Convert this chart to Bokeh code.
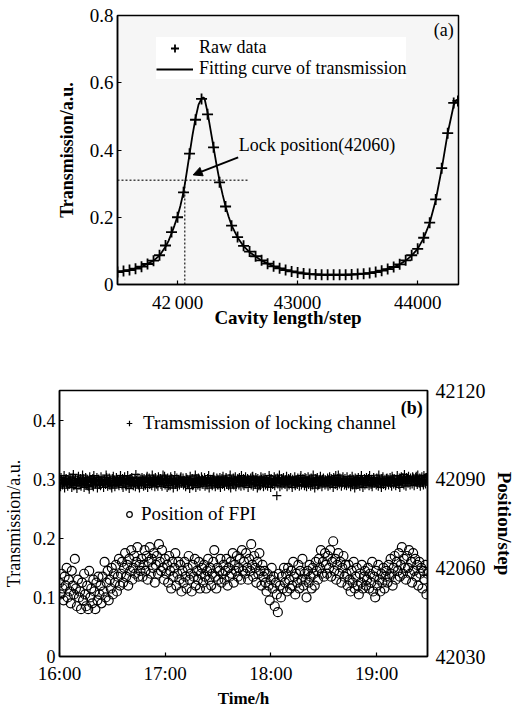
from bokeh.plotting import figure
from bokeh.models import (Range1d, LinearAxis, FixedTicker, Legend, LegendItem,
                          Label, Arrow, NormalHead)
from bokeh.embed import file_html
from bokeh.resources import INLINE
import numpy as np

FONT = "Liberation Serif"

# ---------------- (a) transmission scan ----------------
raw_step = [41500, 41550, 41600, 41650, 41700, 41750, 41800, 41850, 41900, 41950,
            42000, 42050, 42100, 42150, 42200, 42250, 42300, 42350, 42400, 42450,
            42500, 42550, 42600, 42650, 42700, 42750, 42800, 42850, 42900, 42950,
            43000, 43050, 43100, 43150, 43200, 43250, 43300, 43350, 43400, 43450,
            43500, 43550, 43600, 43650, 43700, 43750, 43800, 43850, 43900, 43950,
            44000, 44050, 44100, 44150, 44200, 44250, 44300, 44335]
raw_trans = [0.037, 0.040, 0.043, 0.047, 0.053, 0.061, 0.071, 0.087, 0.116, 0.156,
             0.200, 0.274, 0.389, 0.490, 0.552, 0.506, 0.408, 0.304, 0.232, 0.175,
             0.141, 0.115, 0.098, 0.084, 0.072, 0.062, 0.054, 0.048, 0.043, 0.039,
             0.036, 0.033, 0.031, 0.030, 0.029, 0.029, 0.029, 0.029, 0.029, 0.030,
             0.031, 0.032, 0.034, 0.037, 0.041, 0.046, 0.052, 0.060, 0.072, 0.087,
             0.106, 0.139, 0.184, 0.253, 0.346, 0.450, 0.540, 0.546]

fit_step = [41500, 41600, 41700, 41800, 41850, 41900, 41925, 41950, 41975, 42000,
            42025, 42050, 42075, 42100, 42125, 42150, 42175, 42200, 42215, 42225,
            42250, 42275, 42300, 42325, 42350, 42375, 42400, 42425, 42450, 42500,
            42550, 42600, 42700, 42800, 42900, 43000, 43100, 43200, 43300, 43400,
            43500, 43600, 43700, 43800, 43850, 43900, 43950, 44000, 44050, 44100,
            44150, 44200, 44250, 44300, 44320, 44340]
fit_trans = [0.037, 0.043, 0.053, 0.071, 0.086, 0.112, 0.130, 0.152, 0.176, 0.203,
             0.236, 0.275, 0.330, 0.388, 0.445, 0.495, 0.535, 0.553, 0.556, 0.553,
             0.512, 0.460, 0.408, 0.356, 0.308, 0.268, 0.232, 0.202, 0.176, 0.140,
             0.114, 0.096, 0.071, 0.054, 0.043, 0.035, 0.031, 0.029, 0.028, 0.028,
             0.030, 0.034, 0.041, 0.052, 0.060, 0.071, 0.086, 0.106, 0.138, 0.183,
             0.250, 0.343, 0.450, 0.533, 0.548, 0.550]

lock_step = 42060
lock_trans = 0.31
lock_guide_start = 41500
lock_guide_end = 42590
lock_text = "Lock position(42060)"
lock_text_step, lock_text_trans = 42510, 0.416
arrow_from_step, arrow_from_trans = 42505, 0.378
arrow_to_step, arrow_to_trans = 42130, 0.326
panel_a_step, panel_a_trans = 44300, 0.758

x1_ticks = [42000, 43000, 44000]
x1_tick_labels = ["42\u2009000", "43000", "44000"]
y1_ticks = [0, 0.2, 0.4, 0.6, 0.8]
y1_tick_labels = ["0", "0.2", "0.4", "0.6", "0.8"]

# ---------------- (b) locking record ----------------
time_start, time_end = 16.0, 19.48
x2_ticks = [16, 17, 18, 19]
x2_tick_labels = ["16:00", "17:00", "18:00", "19:00"]
y2_ticks = [0, 0.1, 0.2, 0.3, 0.4]
y2_tick_labels = ["0", "0.1", "0.2", "0.3", "0.4"]
pos_ticks = [42030, 42060, 42090, 42120]
panel_b_time, panel_b_trans = 19.434, 0.42

# locking-channel transmission, samples taken together with the FPI position
lock_channel_trans = [
    0.292, 0.287, 0.298, 0.290, 0.295, 0.285, 0.300, 0.293, 0.288, 0.296, 0.291, 0.302, 0.286, 0.294, 0.289, 0.297, 0.292, 0.284, 0.299, 0.290,
    0.295, 0.288, 0.293, 0.301, 0.286, 0.297, 0.291, 0.289, 0.296, 0.283, 0.294, 0.299, 0.290, 0.287, 0.298, 0.292, 0.295, 0.285, 0.300, 0.291,
    0.289, 0.296, 0.293, 0.286, 0.299, 0.291, 0.303, 0.288, 0.294, 0.290, 0.297, 0.285, 0.292, 0.298, 0.287, 0.295, 0.291, 0.300, 0.289, 0.294,
    0.297, 0.290, 0.286, 0.293, 0.299, 0.288, 0.295, 0.292, 0.284, 0.301, 0.291, 0.296, 0.289, 0.294, 0.287, 0.298, 0.293, 0.290, 0.285, 0.296,
    0.292, 0.299, 0.288, 0.294, 0.290, 0.302, 0.286, 0.295, 0.291, 0.297, 0.289, 0.293, 0.300, 0.287, 0.296, 0.292, 0.288, 0.298, 0.294, 0.291,
    0.288, 0.307, 0.295, 0.290, 0.298, 0.286, 0.293, 0.300, 0.289, 0.296, 0.292, 0.285, 0.299, 0.291, 0.294, 0.287, 0.297, 0.290, 0.302, 0.293,
    0.296, 0.290, 0.293, 0.287, 0.300, 0.292, 0.295, 0.284, 0.298, 0.291, 0.289, 0.297, 0.293, 0.286, 0.301, 0.290, 0.294, 0.288, 0.296, 0.292,
    0.291, 0.297, 0.288, 0.294, 0.290, 0.299, 0.285, 0.293, 0.296, 0.289, 0.302, 0.292, 0.287, 0.295, 0.290, 0.298, 0.293, 0.286, 0.297, 0.291,
    0.294, 0.288, 0.300, 0.291, 0.296, 0.289, 0.293, 0.285, 0.298, 0.292, 0.290, 0.297, 0.287, 0.295, 0.301, 0.290, 0.294, 0.288, 0.296, 0.292,
    0.289, 0.295, 0.292, 0.299, 0.286, 0.293, 0.297, 0.290, 0.304, 0.288, 0.294, 0.291, 0.298, 0.285, 0.296, 0.292, 0.289, 0.300, 0.293, 0.287,
    0.295, 0.290, 0.298, 0.288, 0.293, 0.301, 0.286, 0.294, 0.291, 0.297, 0.289, 0.295, 0.272, 0.292, 0.299, 0.287, 0.294, 0.290, 0.296, 0.293,
    0.291, 0.297, 0.287, 0.294, 0.290, 0.300, 0.293, 0.286, 0.296, 0.292, 0.289, 0.298, 0.291, 0.295, 0.288, 0.302, 0.290, 0.294, 0.297, 0.289,
    0.293, 0.287, 0.296, 0.291, 0.299, 0.288, 0.294, 0.290, 0.297, 0.285, 0.292, 0.300, 0.289, 0.295, 0.291, 0.298, 0.287, 0.293, 0.296, 0.290,
    0.297, 0.292, 0.288, 0.295, 0.290, 0.301, 0.293, 0.286, 0.298, 0.291, 0.295, 0.289, 0.307, 0.292, 0.296, 0.288, 0.294, 0.299, 0.290, 0.293,
    0.289, 0.296, 0.292, 0.299, 0.287, 0.294, 0.290, 0.297, 0.285, 0.293, 0.300, 0.291, 0.295, 0.288, 0.298, 0.292, 0.286, 0.296, 0.290, 0.294,
    0.292, 0.298, 0.289, 0.295, 0.291, 0.287, 0.300, 0.293, 0.296, 0.290, 0.294, 0.288, 0.299, 0.292, 0.286, 0.297, 0.291, 0.295, 0.289, 0.301,
    0.295, 0.290, 0.297, 0.293, 0.288, 0.301, 0.292, 0.296, 0.289, 0.294, 0.299, 0.291, 0.286, 0.297, 0.293, 0.303, 0.290, 0.295, 0.288, 0.298,
    0.293, 0.299, 0.290, 0.296, 0.292, 0.302, 0.289, 0.295, 0.305, 0.291, 0.297, 0.293, 0.288, 0.300, 0.294, 0.290, 0.298, 0.292, 0.303, 0.296,
]

# locking-channel transmission, extra samples taken half-way between the above
lock_channel_trans_mid = [
    0.298, 0.303, 0.294, 0.300, 0.306, 0.296, 0.301, 0.291, 0.299, 0.304, 0.297, 0.293, 0.302, 0.308, 0.295, 0.300, 0.290, 0.298, 0.305, 0.296,
    0.301, 0.295, 0.307, 0.299, 0.292, 0.303, 0.297, 0.300, 0.288, 0.304, 0.298, 0.294, 0.301, 0.306, 0.296, 0.299, 0.303, 0.291, 0.300, 0.297,
    0.304, 0.298, 0.293, 0.300, 0.296, 0.307, 0.299, 0.294, 0.302, 0.297, 0.289, 0.301, 0.305, 0.298, 0.295, 0.303, 0.299, 0.292, 0.300, 0.306,
    0.296, 0.301, 0.298, 0.304, 0.293, 0.299, 0.306, 0.297, 0.300, 0.291, 0.303, 0.298, 0.295, 0.301, 0.308, 0.297, 0.302, 0.294, 0.299, 0.300,
    0.303, 0.297, 0.301, 0.290, 0.299, 0.305, 0.296, 0.302, 0.298, 0.294, 0.307, 0.300, 0.297, 0.303, 0.292, 0.299, 0.304, 0.296, 0.301, 0.298,
    0.299, 0.294, 0.305, 0.300, 0.297, 0.302, 0.289, 0.298, 0.304, 0.301, 0.295, 0.299, 0.306, 0.297, 0.302, 0.293, 0.300, 0.298, 0.304, 0.296,
    0.302, 0.298, 0.295, 0.303, 0.300, 0.291, 0.299, 0.305, 0.297, 0.301, 0.294, 0.300, 0.307, 0.298, 0.296, 0.302, 0.299, 0.293, 0.304, 0.300,
    0.297, 0.303, 0.299, 0.294, 0.301, 0.306, 0.296, 0.300, 0.292, 0.298, 0.304, 0.299, 0.295, 0.302, 0.300, 0.290, 0.303, 0.297, 0.301, 0.305,
    0.300, 0.296, 0.303, 0.298, 0.293, 0.301, 0.307, 0.299, 0.295, 0.302, 0.298, 0.304, 0.291, 0.300, 0.297, 0.303, 0.299, 0.306, 0.294, 0.301,
    0.298, 0.304, 0.296, 0.301, 0.299, 0.293, 0.302, 0.297, 0.305, 0.300, 0.295, 0.303, 0.298, 0.301, 0.289, 0.299, 0.304, 0.297, 0.302, 0.300,
    0.303, 0.297, 0.300, 0.295, 0.306, 0.299, 0.301, 0.293, 0.298, 0.304, 0.300, 0.296, 0.302, 0.299, 0.307, 0.294, 0.301, 0.298, 0.303, 0.297,
    0.299, 0.305, 0.296, 0.301, 0.298, 0.303, 0.292, 0.300, 0.297, 0.304, 0.299, 0.295, 0.302, 0.300, 0.297, 0.306, 0.298, 0.301, 0.294, 0.303,
    0.301, 0.297, 0.304, 0.299, 0.295, 0.302, 0.300, 0.307, 0.296, 0.301, 0.298, 0.303, 0.291, 0.299, 0.305, 0.297, 0.300, 0.302, 0.295, 0.299,
    0.296, 0.302, 0.299, 0.304, 0.297, 0.300, 0.294, 0.303, 0.299, 0.306, 0.298, 0.301, 0.296, 0.302, 0.300, 0.293, 0.304, 0.298, 0.301, 0.297,
    0.304, 0.299, 0.295, 0.301, 0.298, 0.305, 0.300, 0.296, 0.302, 0.290, 0.299, 0.303, 0.297, 0.300, 0.306, 0.298, 0.294, 0.301, 0.299, 0.303,
    0.298, 0.301, 0.306, 0.297, 0.300, 0.294, 0.303, 0.299, 0.296, 0.302, 0.300, 0.307, 0.298, 0.295, 0.301, 0.304, 0.297, 0.300, 0.292, 0.302,
    0.300, 0.296, 0.303, 0.299, 0.305, 0.298, 0.301, 0.294, 0.300, 0.306, 0.297, 0.302, 0.299, 0.304, 0.296, 0.301, 0.308, 0.298, 0.303, 0.300,
    0.305, 0.299, 0.302, 0.297, 0.304, 0.300, 0.296, 0.303, 0.301, 0.307, 0.298, 0.302, 0.295, 0.304, 0.300, 0.306, 0.299, 0.303, 0.297, 0.308,
]

fpi_position = [
    42055, 42051, 42058, 42053, 42049, 42057, 42054, 42060, 42050, 42056, 42052, 42048, 42059, 42054, 42051, 42063, 42053, 42047, 42056, 42050,
    42052, 42046, 42055, 42049, 42058, 42051, 42047, 42054, 42046, 42059, 42050, 42053, 42048, 42056, 42052, 42046, 42055, 42049, 42057, 42051,
    42054, 42048, 42057, 42052, 42062, 42050, 42055, 42059, 42049, 42056, 42053, 42060, 42051, 42058, 42055, 42061, 42052, 42057, 42063, 42054,
    42058, 42062, 42055, 42060, 42065, 42057, 42061, 42054, 42063, 42059, 42066, 42056, 42060, 42064, 42058, 42062, 42067, 42057, 42061, 42059,
    42063, 42057, 42061, 42066, 42059, 42064, 42056, 42062, 42067, 42058, 42063, 42060, 42065, 42055, 42061, 42064, 42058, 42068, 42062, 42059,
    42066, 42060, 42056, 42063, 42058, 42061, 42055, 42064, 42059, 42053, 42062, 42057, 42060, 42065, 42054, 42058, 42062, 42056, 42061, 42052,
    42059, 42055, 42062, 42057, 42053, 42060, 42064, 42056, 42058, 42052, 42061, 42057, 42063, 42054, 42059, 42056, 42062, 42053, 42058, 42060,
    42055, 42061, 42057, 42053, 42059, 42063, 42056, 42060, 42054, 42058, 42062, 42066, 42057, 42053, 42060, 42056, 42059, 42063, 42055, 42058,
    42061, 42056, 42059, 42063, 42054, 42060, 42057, 42062, 42058, 42065, 42055, 42061, 42059, 42064, 42057, 42060, 42063, 42056, 42066, 42059,
    42062, 42058, 42065, 42060, 42056, 42063, 42059, 42068, 42061, 42057, 42064, 42060, 42055, 42062, 42058, 42065, 42059, 42054, 42061, 42057,
    42059, 42055, 42052, 42058, 42054, 42049, 42056, 42060, 42053, 42057, 42047, 42055, 42051, 42045, 42058, 42054, 42050, 42057, 42053, 42060,
    42055, 42058, 42052, 42060, 42056, 42053, 42059, 42054, 42062, 42057, 42051, 42058, 42055, 42061, 42053, 42059, 42056, 42063, 42054, 42058,
    42056, 42050, 42059, 42055, 42061, 42057, 42053, 42060, 42058, 42054, 42062, 42059, 42056, 42063, 42060, 42066, 42058, 42062, 42057, 42065,
    42061, 42058, 42064, 42060, 42066, 42057, 42062, 42069, 42059, 42063, 42056, 42061, 42065, 42058, 42062, 42055, 42060, 42064, 42057, 42061,
    42058, 42054, 42061, 42056, 42052, 42059, 42055, 42062, 42053, 42057, 42060, 42054, 42051, 42058, 42055, 42061, 42053, 42057, 42059, 42054,
    42056, 42060, 42053, 42058, 42055, 42062, 42052, 42057, 42050, 42059, 42054, 42061, 42056, 42052, 42058, 42055, 42060, 42053, 42057, 42059,
    42055, 42061, 42057, 42063, 42058, 42054, 42060, 42064, 42056, 42062, 42059, 42065, 42057, 42061, 42067, 42058, 42063, 42060, 42056, 42064,
    42060, 42066, 42058, 42062, 42055, 42065, 42059, 42063, 42057, 42061, 42054, 42062, 42058, 42060, 42053, 42059, 42056, 42061, 42051, 42058,
]

# sample instants of the uniformly sampled record
time_h = np.linspace(time_start, time_end, len(fpi_position))
half_step = (time_end - time_start) / (len(fpi_position) - 1) / 2
lock_time = np.concatenate([time_h, time_h + half_step])
lock_values = lock_channel_trans + lock_channel_trans_mid


def style_axis(ax, label_size, title_size, title_style, label_standoff, title_standoff):
    ax.major_label_text_font = FONT
    ax.major_label_text_font_size = label_size
    ax.major_label_text_color = "black"
    ax.axis_label_text_font = FONT
    ax.axis_label_text_font_size = title_size
    ax.axis_label_text_font_style = title_style
    ax.axis_label_text_color = "black"
    ax.major_label_standoff = label_standoff
    ax.axis_label_standoff = title_standoff
    ax.axis_line_color = "black"
    ax.axis_line_width = 1.5
    ax.major_tick_in = 4
    ax.major_tick_out = 0
    ax.major_tick_line_color = "black"
    ax.major_tick_line_width = 1.2
    ax.minor_tick_in = 0
    ax.minor_tick_out = 0


# ---------- figure (a) ----------
p1 = figure(width=517, height=345, x_range=Range1d(41500, 44340), y_range=Range1d(0, 0.8),
            output_backend="svg", toolbar_location=None,
            min_border_left=117, min_border_right=59, min_border_top=15, min_border_bottom=61)
p1.grid.visible = False
p1.background_fill_color = "#f6f6f6"
p1.outline_line_color = "black"
p1.outline_line_width = 1.5

p1.xaxis.ticker = FixedTicker(ticks=x1_ticks)
p1.xaxis.major_label_overrides = dict(zip(x1_ticks, x1_tick_labels))
p1.yaxis.ticker = FixedTicker(ticks=y1_ticks)
p1.yaxis.major_label_overrides = dict(zip(y1_ticks, y1_tick_labels))
p1.xaxis.axis_label = "Cavity length/step"
p1.yaxis.axis_label = "Transmission/a.u."
style_axis(p1.xaxis[0], "19px", "19px", "bold", 7, -9)
style_axis(p1.yaxis[0], "19px", "18px", "bold", 4, 10)

p1.line([lock_guide_start, lock_guide_end], [lock_trans, lock_trans],
        line_color="#444444", line_width=1.5, line_dash="2 2")
p1.line([lock_step, lock_step], [0, lock_trans],
        line_color="#444444", line_width=1.5, line_dash="2 2")
r_fit = p1.line(fit_step, fit_trans, line_color="black", line_width=1.8)
r_raw = p1.scatter(raw_step, raw_trans, marker="cross", size=11, line_width=1.8, color="black")

leg1 = Legend(items=[LegendItem(label="Raw data", renderers=[r_raw]),
                     LegendItem(label="Fitting curve of transmission", renderers=[r_fit])],
              location=(39, 205), glyph_width=37, glyph_height=20, label_height=20,
              label_standoff=6, padding=0, margin=0, spacing=0,
              border_line_alpha=0, background_fill_color="white", background_fill_alpha=1,
              label_text_font=FONT, label_text_font_size="18px", label_text_color="black")
p1.add_layout(leg1, "center")

p1.add_layout(Arrow(end=NormalHead(size=9, fill_color="black", line_color="black"),
                    x_start=arrow_from_step, y_start=arrow_from_trans,
                    x_end=arrow_to_step, y_end=arrow_to_trans,
                    line_color="black", line_width=2))
p1.add_layout(Label(x=lock_text_step, y=lock_text_trans, text=lock_text,
                    text_font=FONT, text_font_size="18px", text_color="black",
                    text_align="left", text_baseline="middle"))
p1.add_layout(Label(x=panel_a_step, y=panel_a_trans, text="(a)",
                    text_font=FONT, text_font_size="18px", text_color="black",
                    text_align="right", text_baseline="middle"))

# ---------- figure (b) ----------
p2 = figure(width=517, height=365, x_range=Range1d(time_start, time_end), y_range=Range1d(0, 0.45),
            output_backend="svg", toolbar_location=None,
            min_border_left=59, min_border_right=89, min_border_top=45, min_border_bottom=53)
p2.grid.visible = False
p2.background_fill_color = "white"
p2.outline_line_color = "black"
p2.outline_line_width = 1.5
p2.extra_y_ranges = {"pos": Range1d(42030, 42120)}

p2.xaxis.ticker = FixedTicker(ticks=x2_ticks)
p2.xaxis.major_label_overrides = dict(zip(x2_ticks, x2_tick_labels))
p2.yaxis.ticker = FixedTicker(ticks=y2_ticks)
p2.yaxis.major_label_overrides = dict(zip(y2_ticks, y2_tick_labels))
p2.xaxis.axis_label = "Time/h"
p2.yaxis.axis_label = "Transmission/a.u."
style_axis(p2.xaxis[0], "19px", "17px", "bold", 6, 2)
style_axis(p2.yaxis[0], "18px", "18px", "normal", 4, 6)

ax_r = LinearAxis(y_range_name="pos", ticker=FixedTicker(ticks=pos_ticks), axis_label="Position/step")
style_axis(ax_r, "20px", "19px", "bold", 8, 5)
p2.add_layout(ax_r, "right")

r_lock = p2.scatter(lock_time, lock_values, marker="cross", size=9, line_width=1.2, color="black")
r_fpi = p2.scatter(time_h, fpi_position, y_range_name="pos", marker="circle", size=9,
                   line_color="black", line_width=1.2, fill_alpha=0)

leg2 = Legend(items=[LegendItem(label="Tramsmission of locking channel", renderers=[r_lock])],
              location=(63, 222), glyph_width=14, glyph_height=20, label_height=20,
              label_standoff=7, padding=0, margin=0, spacing=0,
              border_line_alpha=0, background_fill_alpha=0,
              label_text_font=FONT, label_text_font_size="19px", label_text_color="black")
leg3 = Legend(items=[LegendItem(label="Position of FPI", renderers=[r_fpi])],
              location=(63, 131), glyph_width=14, glyph_height=20, label_height=20,
              label_standoff=5, padding=0, margin=0, spacing=0,
              border_line_alpha=0, background_fill_alpha=0,
              label_text_font=FONT, label_text_font_size="19px", label_text_color="black")
p2.add_layout(leg2, "center")
p2.add_layout(leg3, "center")
p2.add_layout(Label(x=panel_b_time, y=panel_b_trans, text="(b)",
                    text_font=FONT, text_font_size="18px", text_font_style="bold",
                    text_color="black", text_align="right", text_baseline="middle"))

open("out.html", "w").write(file_html([p1, p2], INLINE))
